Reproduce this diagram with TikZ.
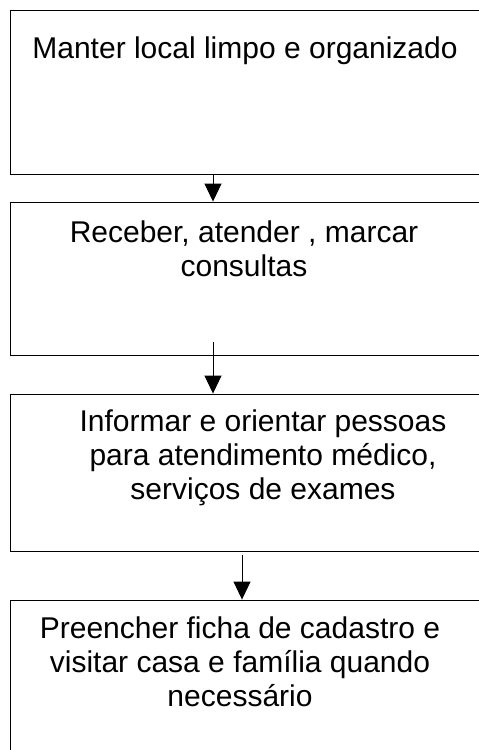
\documentclass[tikz,border=0pt]{standalone}
\usepackage{fontspec}
\setmainfont{Liberation Sans}
\usetikzlibrary{arrows.meta}
\begin{document}
\begin{tikzpicture}[x=1pt,y=-1pt,
  box/.style={draw=black,line width=0.9pt,rectangle,inner sep=0pt},
  lbl/.style={inner sep=0pt,align=center,anchor=base,font=\fontsize{30}{34}\selectfont},
  arr/.style={draw=black,line width=0.9pt,-{Triangle[width=17pt,length=18pt]}}]
\useasboundingbox (0,0) rectangle (479,750);
\clip (0,0) rectangle (479,750);
\node[box,minimum width=490pt,minimum height=164pt] (b1) at (255,92) {};
\node[box,minimum width=490pt,minimum height=153pt] (b2) at (255,278.5) {};
\node[box,minimum width=490pt,minimum height=157pt] (b3) at (255,472.5) {};
\node[box,minimum width=490pt,minimum height=170pt] (b4) at (255,685) {};
\node[lbl] (t1) at (245,58) {Manter local limpo e organizado};
\node[lbl] (t2) at (244,276) {Receber, atender , marcar\\consultas};
\node[lbl] (t3) at (263,499) {Informar e orientar pessoas\\para atendimento médico,\\serviços de exames};
\node[lbl] (t4) at (240,706) {Preencher ficha de cadastro e\\visitar casa e família quando\\necessário};
\coordinate (a1) at (213,0);
\coordinate (s2) at (213,342);
\coordinate (s3) at (242,555);
\draw[arr] (b1.south -| a1) -- (b2.north -| a1);
\draw[arr] (s2) -- (b3.north -| s2);
\draw[arr] (s3) -- (b4.north -| s3);
\end{tikzpicture}
\end{document}
